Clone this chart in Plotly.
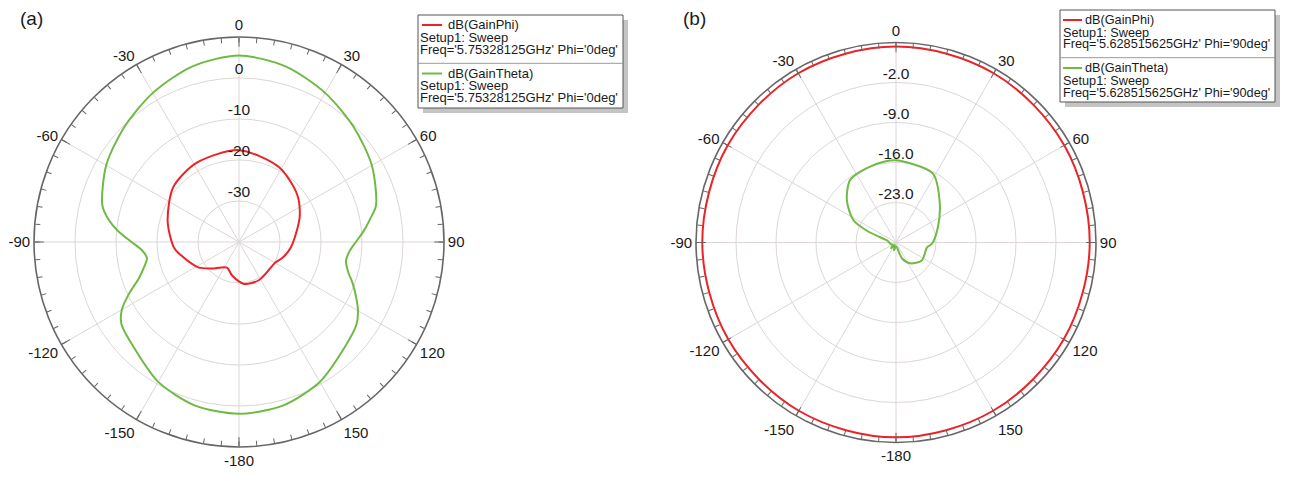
import plotly.graph_objects as go

W, H = 1289, 477
OX, OY = 8, 8  # page body margin offset
FONT = "Liberation Sans, Arial, sans-serif"
RED = "#ec2227"
GREEN = "#6fba44"

# ---------------- data (a) ----------------
theta_a_phi = [0, 28, 50, 67, 82, 96, 110, 119, 152, 173, -168, -155, -134, -122, -103, -95, -74, -50, -28, 0]
r_a_phi = [-17.6, -19.3, -21.6, -23.9, -26.0, -27.3, -28.7, -29.8, -29.5, -29.7, -31.7, -33.1, -30.7, -28.3,
           -25.5, -24.1, -21.9, -19.1, -18.1, -17.6]

theta_a_theta = [0, 15, 30, 45, 60, 75, 80, 85, 90, 95, 100, 105, 110, 115, 120, 125, 135, 150, 165, 180,
                 -165, -150, -135, -125, -120, -115, -110, -105, -100, -95, -90, -85, -80, -75, -60, -45, -30, -15, 0]
r_a_theta = [5.5, 4.3, 2.0, -0.4, -2.6, -5.4, -7.5, -9.5, -11.5, -13.0, -13.5, -12.5, -10.5, -8.5, -6.5, -5.0,
             -3.6, -0.6, 1.3, 1.9,
             1.3, -0.6, -3.7, -5.0, -7.0, -10.5, -14.0, -16.0, -17.2, -16.3, -13.8, -10.5, -7.6, -5.5, -2.6,
             -0.4, 2.0, 4.3, 5.5]

# ---------------- data (b) ----------------
theta_b_phi = [0, 30, 60, 90, 120, 150, 180, -150, -120, -90, -60, -30, 0]
r_b_phi = [4.3, 4.2, 4.0, 3.9, 3.9, 4.0, 4.1, 4.0, 3.9, 3.9, 4.0, 4.2, 4.3]

theta_b_theta = [0, 28, 48, 70, 92, 99, 125, 146, 159, 169, 180, -165, -150, -140, -125, -105, -90, -80, -77,
                 -68, -62, -49, -36, -21, -8, 0]
r_b_theta = [-15.6, -16.3, -19.7, -22.2, -23.7, -24.5, -24.5, -25.6, -27.0, -29.1, -29.3, -28.6, -29.5, -28.7,
             -29.3, -29.0, -28.8, -28.6, -28.4, -24.5, -21.5, -18.6, -16.4, -16.0, -15.7, -15.6]

# ---------------- axes ----------------
ang_vals = [0, 30, 60, 90, 120, 150, 180, 210, 240, 270, 300, 330]
ang_text = ["0", "30", "60", "90", "120", "150", "-180", "-150", "-120", "-90", "-60", "-30"]
minor_vals = list(range(0, 360, 5))

range_a = [-40, 10]
rticks_a = [-30, -20, -10, 0]
rtext_a = ["-30", "-20", "-10", "0"]

range_b = [-30, 5]
rticks_b = [-23, -16, -9, -2]
rtext_b = ["-23.0", "-16.0", "-9.0", "-2.0"]

legend_a = ["dB(GainPhi)", "Setup1: Sweep", "Freq='5.75328125GHz' Phi='0deg'",
            "dB(GainTheta)", "Setup1: Sweep", "Freq='5.75328125GHz' Phi='0deg'"]
legend_b = ["dB(GainPhi)", "Setup1: Sweep", "Freq='5.628515625GHz' Phi='90deg'",
            "dB(GainTheta)", "Setup1: Sweep", "Freq='5.628515625GHz' Phi='90deg'"]


def px(x):
    return (x - OX) / W


def py(y):
    return 1 - (y - OY) / H


fig = go.Figure()

fig.add_trace(go.Scatterpolar(r=r_a_phi, theta=theta_a_phi, mode="lines", subplot="polar",
                              line=dict(color=RED, width=2, shape="spline", smoothing=0.8), name="dB(GainPhi)"))
fig.add_trace(go.Scatterpolar(r=r_a_theta, theta=theta_a_theta, mode="lines", subplot="polar",
                              line=dict(color=GREEN, width=2, shape="spline", smoothing=0.8), name="dB(GainTheta)"))
fig.add_trace(go.Scatterpolar(r=r_b_phi, theta=theta_b_phi, mode="lines", subplot="polar2",
                              line=dict(color=RED, width=2, shape="spline", smoothing=1.0), name="dB(GainPhi)"))
fig.add_trace(go.Scatterpolar(r=r_b_theta, theta=theta_b_theta, mode="lines", subplot="polar2",
                              line=dict(color=GREEN, width=2, shape="spline", smoothing=0.8), name="dB(GainTheta)"))

# radial labels at the tick values along the 0-degree spoke
fig.add_trace(go.Scatterpolar(r=rticks_a, theta=[0] * len(rticks_a), text=rtext_a, mode="text",
                              textposition="top center", subplot="polar", hoverinfo="skip",
                              textfont=dict(family=FONT, size=15.5, color="#1a1a1a")))
fig.add_trace(go.Scatterpolar(r=rticks_b, theta=[0] * len(rticks_b), text=rtext_b, mode="text",
                              textposition="top center", subplot="polar2", hoverinfo="skip",
                              textfont=dict(family=FONT, size=15.5, color="#1a1a1a")))

# empty traces that create the minor-tick overlay subplots
fig.add_trace(go.Scatterpolar(r=[], theta=[], subplot="polar3", hoverinfo="skip"))
fig.add_trace(go.Scatterpolar(r=[], theta=[], subplot="polar4", hoverinfo="skip"))

dom_a = dict(x=[px(239 - 205), px(239 + 205)], y=[py(242 + 205), py(242 - 205)])
dom_b = dict(x=[px(896 - 200), px(896 + 200)], y=[py(442.5), py(42.5)])

GRID = "#ddd6d6"
AX = "#666666"


def main_polar(dom, rng, rticks):
    return dict(
        domain=dom, bgcolor="white",
        angularaxis=dict(rotation=90, direction="clockwise", tickmode="array", tickvals=ang_vals,
                         ticktext=ang_text, ticks="inside", ticklen=9, tickwidth=1.3, tickcolor=AX,
                         showline=True, linecolor=AX, linewidth=1.6, showgrid=True, gridcolor=GRID,
                         gridwidth=1, tickfont=dict(family=FONT, size=15, color="#1a1a1a")),
        radialaxis=dict(range=rng, tickmode="array", tickvals=rticks, showticklabels=False, ticks="",
                        showline=False, showgrid=True, gridcolor=GRID, gridwidth=1),
    )


def minor_polar(dom, rng):
    return dict(
        domain=dom, bgcolor="rgba(0,0,0,0)",
        angularaxis=dict(rotation=90, direction="clockwise", tickmode="array", tickvals=minor_vals,
                         ticks="inside", ticklen=5, tickwidth=1.1, tickcolor=AX, showticklabels=False,
                         showline=False, showgrid=False),
        radialaxis=dict(range=rng, visible=False, showgrid=False),
    )


shapes = []
annotations = []


def add_legend(x0, y0, x1, y1, sep, lines_y, sample):
    shapes.append(dict(type="rect", xref="paper", yref="paper", x0=px(x0 + 5), x1=px(x1 + 5), y0=py(y1 + 5),
                       y1=py(y0 + 5), fillcolor="#c4c4c4", line=dict(width=0), layer="above"))
    shapes.append(dict(type="rect", xref="paper", yref="paper", x0=px(x0), x1=px(x1), y0=py(y1), y1=py(y0),
                       fillcolor="white", line=dict(color="#555555", width=1), layer="above"))
    shapes.append(dict(type="line", xref="paper", yref="paper", x0=px(x0), x1=px(x1), y0=py(sep), y1=py(sep),
                       line=dict(color="#9a9a9a", width=1), layer="above"))
    for yy, col in ((lines_y[0], RED), (lines_y[3], GREEN)):
        shapes.append(dict(type="line", xref="paper", yref="paper", x0=px(sample[0]), x1=px(sample[1]),
                           y0=py(yy), y1=py(yy), line=dict(color=col, width=2), layer="above"))


def add_legend_text(texts, lines_y, text_x_first, text_x, size):
    for i, (t, yy) in enumerate(zip(texts, lines_y)):
        xx = text_x_first if i % 3 == 0 else text_x
        annotations.append(dict(text=t, x=px(xx), y=py(yy), xref="paper", yref="paper", xanchor="left",
                                yanchor="middle", showarrow=False, borderpad=0,
                                font=dict(family=FONT, size=size, color="#1a1a1a")))


ly_a = [25, 38, 49.5, 73.5, 86, 97.5]
add_legend(418, 15, 623, 108, 63.3, ly_a, (422, 442))
add_legend_text(legend_a, ly_a, 447, 419, 13)

ly_b = [20, 33, 44.5, 68, 81, 92.5]
add_legend(1060, 10, 1275, 102, 57.7, ly_b, (1063, 1082))
add_legend_text(legend_b, ly_b, 1084, 1062, 12.7)

annotations.append(dict(text="(a)", x=px(18), y=py(19), xref="paper", yref="paper", xanchor="left",
                        yanchor="middle", showarrow=False, font=dict(family=FONT, size=19, color="#1a1a1a")))
annotations.append(dict(text="(b)", x=px(681), y=py(19), xref="paper", yref="paper", xanchor="left",
                        yanchor="middle", showarrow=False, font=dict(family=FONT, size=19, color="#1a1a1a")))

fig.update_layout(
    width=W, height=H, autosize=False,
    margin=dict(l=0, r=0, t=0, b=0),
    paper_bgcolor="white", plot_bgcolor="white",
    showlegend=False,
    polar=main_polar(dom_a, range_a, rticks_a),
    polar2=main_polar(dom_b, range_b, rticks_b),
    polar3=minor_polar(dom_a, range_a),
    polar4=minor_polar(dom_b, range_b),
    shapes=shapes,
    annotations=annotations,
)

fig.write_html("out.html")
